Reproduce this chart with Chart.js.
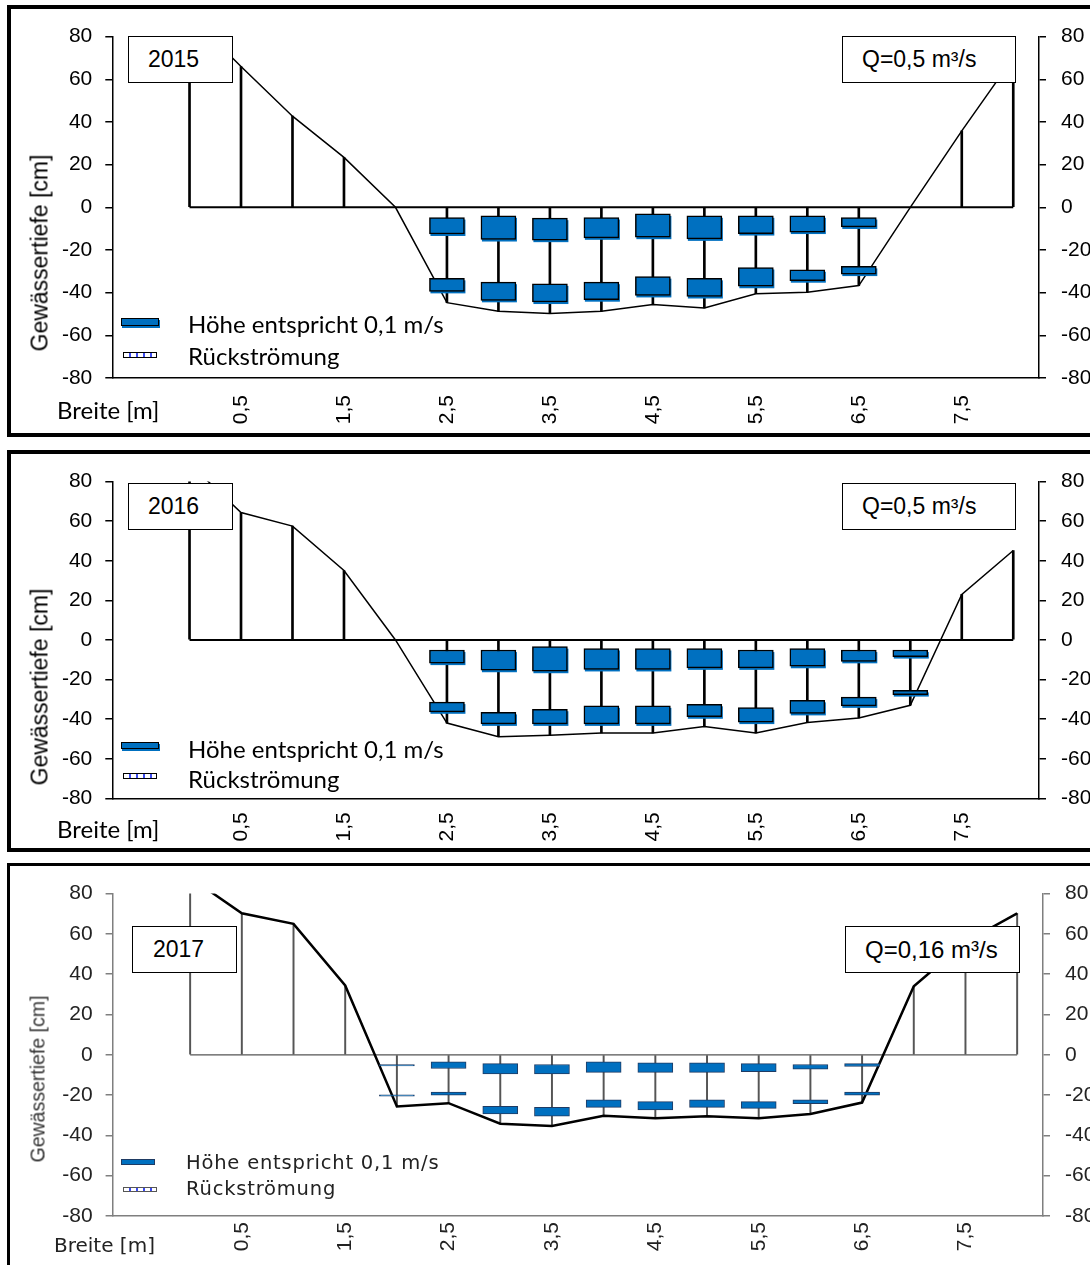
<!DOCTYPE html>
<html>
<head>
<meta charset="utf-8">
<script src="https://cdn.jsdelivr.net/npm/chart.js@4.4.1/dist/chart.umd.min.js"></script>
<style>
  body { margin:0; width:1090px; height:1265px; overflow:hidden; background:#fff; position:relative; font-family:'Liberation Sans', Arial, sans-serif; }
  canvas { position:absolute; left:0; }
  .frame { position:absolute; left:7px; width:1130px; border:4px solid #000; box-sizing:border-box; }
  .ytitle { position:absolute; white-space:nowrap; font-size:23px; line-height:23px; transform:translate(-50%,-50%) rotate(-90deg); }
  .box { position:absolute; box-sizing:border-box; background:#fff; border:1.5px solid #000; display:flex; align-items:center; font-size:23px; white-space:nowrap; }
  .swatch { position:absolute; box-sizing:border-box; background:#0070C0; border:1.5px solid #000; box-shadow:1px 2px 0 #0070C0; }
  .hatch { position:absolute; box-sizing:border-box; border:1.5px solid #000;
           background:repeating-linear-gradient(90deg,#fff 0,#fff 5px,#3d4cf0 5px,#3d4cf0 7px); }
  .leg { position:absolute; white-space:nowrap; font-family:Lato, sans-serif; font-size:24px; line-height:24px; }
  .leg3 { position:absolute; white-space:nowrap; font-family:'DejaVu Sans', sans-serif; font-size:19.5px; line-height:20px; letter-spacing:0.8px; color:#222; }
</style>
</head>
<body>

<!-- 2015 -->
<div class="frame" style="top:5px;height:432px"></div>
<canvas id="c2015" width="1130" height="424" style="top:9px"></canvas>
<div class="ytitle" style="left:40px;top:253px">Gewässertiefe [cm]</div>
<div class="box" style="left:128px;top:36px;width:105px;height:47px;padding-left:19px">2015</div>
<div class="box" style="left:842px;top:36px;width:174px;height:47px;padding-left:19px">Q=0,5 m³/s</div>
<div class="swatch" style="left:121px;top:318px;width:38px;height:8px"></div>
<div class="hatch" style="left:123px;top:352px;width:34px;height:6px"></div>
<div class="leg" style="left:188px;top:312px">Höhe entspricht 0,1 m/s</div>
<div class="leg" style="left:188px;top:344px">Rückströmung</div>
<div class="leg" style="left:57px;top:398px">Breite [m]</div>

<!-- 2016 -->
<div class="frame" style="top:450px;height:402px"></div>
<canvas id="c2016" width="1130" height="394" style="top:454px"></canvas>
<div class="ytitle" style="left:40px;top:687px">Gewässertiefe [cm]</div>
<div class="box" style="left:128px;top:483px;width:105px;height:47px;padding-left:19px">2016</div>
<div class="box" style="left:842px;top:483px;width:174px;height:47px;padding-left:19px">Q=0,5 m³/s</div>
<div class="swatch" style="left:121px;top:742px;width:38px;height:7px"></div>
<div class="hatch" style="left:123px;top:773px;width:34px;height:6px"></div>
<div class="leg" style="left:188px;top:737px">Höhe entspricht 0,1 m/s</div>
<div class="leg" style="left:188px;top:767px">Rückströmung</div>
<div class="leg" style="left:57px;top:817px">Breite [m]</div>

<!-- 2017 -->
<div class="frame" style="top:863px;height:440px;border-width:3.5px"></div>
<canvas id="c2017" width="1130" height="399" style="top:866px"></canvas>
<div class="ytitle" style="left:38px;top:1079px;font-size:19.5px;color:#333">Gewässertiefe [cm]</div>
<div class="box" style="left:132px;top:926px;width:105px;height:47px;padding-left:20px">2017</div>
<div class="box" style="left:845px;top:926px;width:175px;height:47px;padding-left:19px;font-size:24px">Q=0,16 m³/s</div>
<div class="swatch" style="left:121px;top:1159px;width:34px;height:6px;box-shadow:none;border-width:1px;border-color:#1f3b63"></div>
<div class="hatch" style="left:123px;top:1187px;width:34px;height:5px;border-width:1px;border-color:#555"></div>
<div class="leg3" style="left:186px;top:1153px">Höhe entspricht 0,1 m/s</div>
<div class="leg3" style="left:186px;top:1179px">Rückströmung</div>
<div class="leg3" style="left:54px;top:1235px;font-size:20px;line-height:20px;letter-spacing:0">Breite [m]</div>

<script>
// Messlotrechten quer zum Gerinne [m]
var positions = [0, 0.5, 1, 1.5, 2, 2.5, 3, 3.5, 4, 4.5, 5, 5.5, 6, 6.5, 7, 7.5, 8];
var xTicks = [0.5, 1.5, 2.5, 3.5, 4.5, 5.5, 6.5, 7.5];

// Gewässerprofil (Sohle / Böschung) in cm, bezogen auf den Wasserspiegel
var profile2015 = [90, 66, 42.7, 23.4, 0, -44.7, -48.7, -49.8, -48.7, -45.5, -47.2, -40.5, -39.8, -36.7, 0, 35.8, 70];
var profile2016 = [89, 64.4, 57.5, 35.1, 0, -42, -48.9, -48.1, -47, -47, -43.7, -47, -41.7, -39.4, -33, 23, 45.2];
var profile2017 = [88, 70.2, 65, 34.4, -25.6, -24, -34.2, -35.3, -30.2, -31.5, -30.5, -31.5, -29.4, -23.7, 34, 56, 70.2];

// Geschwindigkeitsbalken: [unten, oben] in cm, Höhe entspricht der Geschwindigkeit
var meas2015 = [2.5, 3, 3.5, 4, 4.5, 5, 5.5, 6, 6.5];
var top2015 = [[-12.5,-4.8],[-15.1,-4],[-15.4,-5.1],[-14.3,-4.8],[-14,-3.1],[-14.8,-4],[-12.3,-4],[-11.6,-4],[-9.2,-4.8]];
var bed2015 = [[-39.4,-33.3],[-43.6,-35.1],[-44.4,-35.9],[-43.3,-35.1],[-41.3,-32.5],[-41.8,-33.3],[-37,-28.2],[-34.4,-29.3],[-31.3,-27.7]];

var meas2016 = [2.5, 3, 3.5, 4, 4.5, 5, 5.5, 6, 6.5, 7];
var top2016 = [[-11.7,-5.1],[-15.3,-5.1],[-15.8,-3.4],[-14.9,-4.3],[-14.9,-4.3],[-14.1,-4.3],[-14.1,-5.1],[-13.3,-4.3],[-10.8,-5.1],[-8.4,-5.1]];
var bed2016 = [[-36.3,-31.4],[-42.4,-36.6],[-42.4,-35],[-42.4,-33.3],[-42.4,-33.3],[-38.8,-32.5],[-41.5,-34.2],[-37.1,-30.5],[-33.3,-28.9],[-27.6,-25.5]];

var meas2017 = [2, 2.5, 3, 3.5, 4, 4.5, 5, 5.5, 6, 6.5];
var top2017 = [[-5.5,-4.9],[-6.8,-3.5],[-9.5,-4.4],[-9.5,-4.8],[-8.7,-3.5],[-8.7,-4],[-8.7,-4],[-8.4,-4.4],[-7.1,-4.8],[-5.8,-4.4]];
var bed2017 = [[-20.5,-19.9],[-20,-18.5],[-29.4,-25.6],[-30.5,-26.1],[-26.1,-22.4],[-27.3,-23.2],[-26.1,-22.4],[-26.6,-23.2],[-24.2,-22.4],[-20,-18.5]];

// schatten unter den balken (wie im excel original)
var barShadow = {
  id: 'barShadow',
  beforeDatasetDraw: function(chart, args) {
    var ds = chart.data.datasets[args.index];
    if (!ds.shadowColor) return;
    var ctx = chart.ctx;
    ctx.save();
    ctx.fillStyle = ds.shadowColor;
    args.meta.data.forEach(function(bar) {
      var p = bar.getProps(['x', 'y', 'base', 'width']);
      var top = Math.min(p.y, p.base);
      ctx.fillRect(p.x - p.width / 2 + 1, top + 2, p.width, Math.abs(p.base - p.y));
    });
    ctx.restore();
  }
};

function toPoints(xs, ys) {
  var list = [];
  for (var i = 0; i < xs.length; i++) {
    list.push({x: xs[i], y: ys[i]});
  }
  return list;
}

function drawPanel(id, profile, meas, topBars, bedBars, s) {
  var verticals = [];
  for (var i = 0; i < positions.length; i++) {
    verticals.push({x: positions[i], y: [0, profile[i]]});
  }
  var surface = [{x: positions[0], y: 0}, {x: positions[positions.length - 1], y: 0}];
  var tickFont = {family: 'Liberation Sans', size: 21};

  function rectSet(pairs) {
    return {
      type: 'bar', grouped: false, order: 0,
      data: toPoints(meas, pairs),
      backgroundColor: '#0070C0', borderColor: s.rectBorder, borderWidth: s.rectBorderWidth,
      borderSkipped: false, barThickness: 35, shadowColor: s.shadow
    };
  }

  function yAxis(pos, width, pad) {
    return {
      type: 'linear', position: pos, min: -80, max: 80,
      ticks: {stepSize: 20, padding: pad, color: s.textColor, font: tickFont,
              callback: function(v) { return String(v); }},
      grid: {drawOnChartArea: false, drawTicks: true, tickLength: 7, color: s.axisColor, lineWidth: s.axisWidth},
      border: {display: true, color: s.axisColor, width: s.axisWidth},
      afterFit: function(scale) { scale.width = width; }
    };
  }

  var ctx = document.getElementById(id);
  var chart = new Chart(ctx, {
    type: 'bar',
    data: {
      datasets: [
        {type: 'line', order: 2, data: surface, borderColor: s.lineColor, borderWidth: s.vWidth, pointRadius: 0},
        {type: 'bar', grouped: false, order: 2, data: verticals, backgroundColor: s.lineColor, barThickness: s.vWidth},
        {type: 'line', order: 1, data: toPoints(positions, profile), borderColor: '#000', borderWidth: s.profileWidth,
         pointRadius: 0, tension: 0},
        rectSet(topBars),
        rectSet(bedBars)
      ]
    },
    options: {
      responsive: false,
      animation: false,
      devicePixelRatio: 1,
      layout: {padding: {top: s.top, left: 0, right: 0, bottom: 0}},
      plugins: {legend: {display: false}, tooltip: {enabled: false}},
      scales: {
        x: {
          type: 'linear', min: -0.75, max: 8.25, offset: false,
          grid: {display: false, drawTicks: false},
          border: {display: true, color: s.axisColor, width: s.axisWidth},
          afterBuildTicks: function(scale) {
            scale.ticks = xTicks.map(function(v) { return {value: v}; });
          },
          afterFit: function(scale) { scale.height = s.xHeight; },
          ticks: {autoSkip: false, minRotation: 90, maxRotation: 90, padding: s.xPad,
                  color: s.textColor, font: tickFont,
                  callback: function(v) { return String(v).replace('.', ','); }}
        },
        y: yAxis('left', s.left, 13),
        y2: yAxis('right', 1130 - s.right, 15)
      }
    },
    plugins: [barShadow]
  });
}

drawPanel('c2015', profile2015, meas2015, top2015, bed2015, {
  top: 23, xHeight: 55, xPad: 17, left: 112.3, right: 1039,
  axisColor: '#000', axisWidth: 1.5, lineColor: '#000', vWidth: 2, profileWidth: 1.5,
  textColor: '#000', rectBorder: '#000', rectBorderWidth: 1.5, shadow: '#0070C0'
});
drawPanel('c2016', profile2016, meas2016, top2016, bed2016, {
  top: 19.3, xHeight: 49.7, xPad: 14, left: 112.3, right: 1039,
  axisColor: '#000', axisWidth: 1.5, lineColor: '#000', vWidth: 2, profileWidth: 1.5,
  textColor: '#000', rectBorder: '#000', rectBorderWidth: 1.5, shadow: '#0070C0'
});
drawPanel('c2017', profile2017, meas2017, top2017, bed2017, {
  top: 19, xHeight: 49, xPad: 6, left: 112.6, right: 1043,
  axisColor: '#7f7f7f', axisWidth: 1.5, lineColor: '#555', vWidth: 1.3, profileWidth: 2.5,
  textColor: '#222', rectBorder: '#1f3b63', rectBorderWidth: 1, shadow: null
});
</script>
</body>
</html>
